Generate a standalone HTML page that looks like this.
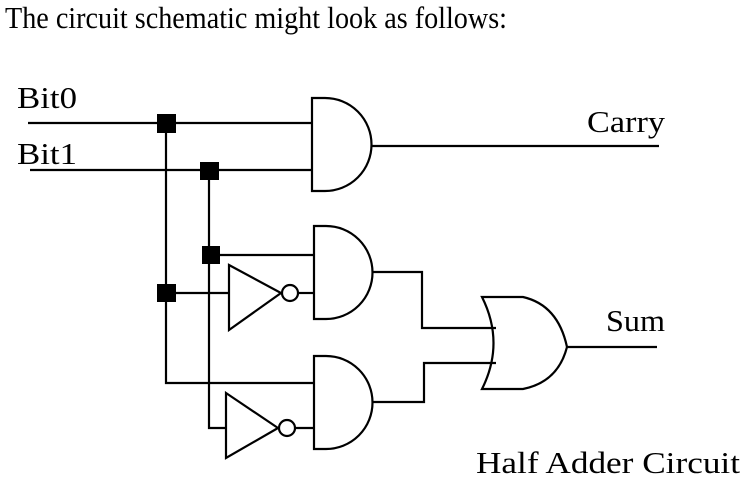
<!DOCTYPE html>
<html><head><meta charset="utf-8"><style>
html,body{margin:0;padding:0;background:#fff;}
svg{display:block;}
text{font-family:"Liberation Serif",serif;fill:#000;}
</style></head><body>
<svg width="744" height="486" viewBox="0 0 744 486" xmlns="http://www.w3.org/2000/svg">
<text x="5" y="28" font-size="31" textLength="502" lengthAdjust="spacingAndGlyphs">The circuit schematic might look as follows:</text>
<text x="17" y="108" font-size="31" textLength="60" lengthAdjust="spacingAndGlyphs">Bit0</text>
<text x="17" y="164" font-size="31" textLength="60" lengthAdjust="spacingAndGlyphs">Bit1</text>
<text x="587" y="132" font-size="31" textLength="78" lengthAdjust="spacingAndGlyphs">Carry</text>
<text x="606" y="331" font-size="31" textLength="59" lengthAdjust="spacingAndGlyphs">Sum</text>
<text x="476" y="473" font-size="31" textLength="264" lengthAdjust="spacingAndGlyphs">Half Adder Circuit</text>
<g stroke="#000" stroke-width="2.2" fill="none">
<line x1="28" y1="123" x2="312" y2="123"/>
<line x1="30" y1="170" x2="312" y2="170"/>
<polyline points="166,123 166,383 314,383"/>
<polyline points="209,170 209,428 226,428"/>
<line x1="211" y1="255" x2="314" y2="255"/>
<line x1="166" y1="293" x2="229" y2="293"/>
<line x1="298" y1="293" x2="314" y2="293"/>
<line x1="295" y1="428" x2="314" y2="428"/>
<path d="M312,98 H325 A46.5,46.5 0 0 1 325,191 H312 Z"/>
<path d="M314,226 H326 A46.5,46.5 0 0 1 326,319 H314 Z"/>
<path d="M314,356 H326 A46.5,46.5 0 0 1 326,449 H314 Z"/>
<path d="M229,265 L281,293 L229,330 Z"/>
<circle cx="290" cy="293" r="8"/>
<path d="M226,393 L278,428 L226,458 Z"/>
<circle cx="287" cy="428" r="8"/>
<line x1="372" y1="146" x2="659" y2="146"/>
<polyline points="372,272 422,272 422,328 496,328"/>
<polyline points="372,402 424,402 424,363 496,363"/>
<path d="M482,297 H523 Q558,305 567,347 Q558,382 523,389 H482 Q505,343 482,297 Z"/>
<line x1="567" y1="347" x2="657" y2="347"/>
</g>
<g fill="#000">
<rect x="157" y="114" width="19" height="19"/>
<rect x="200" y="162" width="19" height="18"/>
<rect x="202" y="246" width="18" height="18"/>
<rect x="157" y="284" width="19" height="18"/>
</g>
</svg>
</body></html>
